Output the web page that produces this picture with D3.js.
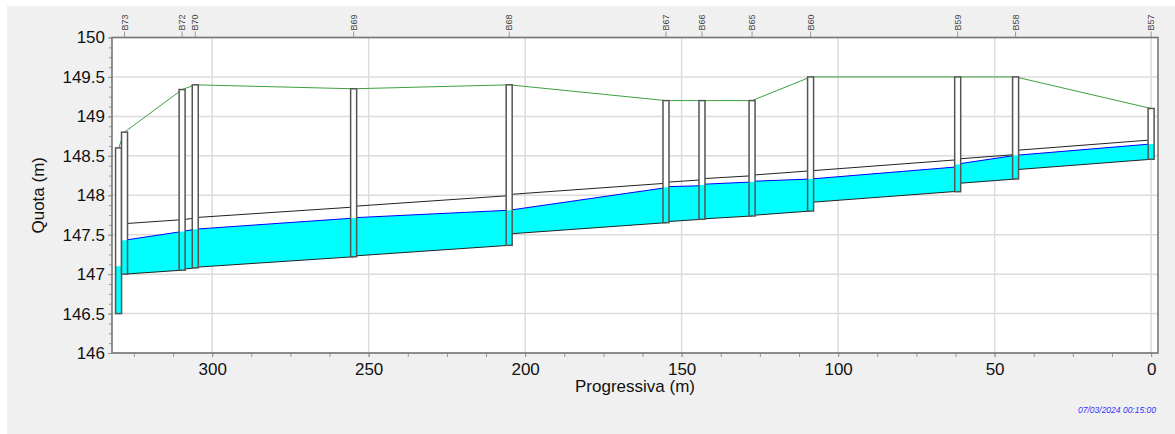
<!DOCTYPE html>
<html>
<head>
<meta charset="utf-8">
<script src="https://d3js.org/d3.v7.min.js"></script>
<style>
  body { margin: 0; background: #fff; }
  svg { display: block; font-family: 'Liberation Sans', Arial, sans-serif; }
</style>
</head>
<body>
<div id="chart"></div>
<script>
// manholes, ordered from downstream (left) to upstream (right)
const nodeNames = ['', 'B73', 'B72', 'B70', 'B69', 'B68', 'B67', 'B66', 'B65', 'B60', 'B59', 'B58', 'B57']
const nodeProg = [329.9, 328.0, 309.6, 305.4, 254.8, 205.1, 155.0, 143.5, 127.5, 108.8, 61.8, 43.3, 0]
const groundLevel = [148.6, 148.8, 149.34, 149.4, 149.35, 149.4, 149.2, 149.2, 149.2, 149.5, 149.5, 149.5, 149.1]
const bottomLevel = [146.5, 147.0, 147.05, 147.08, 147.22, 147.365, 147.652, 147.695, 147.737, 147.8, 148.045, 148.206, 148.456]
const nodeWater = [147.1, 147.43, 147.54, 147.57, 147.71, 147.81, 148.1, 148.13, 148.17, 148.206, 148.39, 148.506, 148.65]

// pipes: pipe k runs from node k+1 (downstream) to node k+2 (upstream)
const pipeDownInvert = [147.0, 147.06, 147.087, 147.23, 147.51, 147.665, 147.7, 147.745, 147.91, 148.15, 148.324]
const pipeUpInvert = [147.05, 147.08, 147.22, 147.365, 147.652, 147.695, 147.737, 147.8, 148.05, 148.206, 148.456]
const pipeDiameter = [0.64, 0.63, 0.63, 0.63, 0.5, 0.5, 0.51, 0.51, 0.4, 0.31, 0.245]
const pipeDownWater = [147.43, 147.54, 147.57, 147.715, 147.81, 148.108, 148.139, 148.177, 148.206, 148.396, 148.506]
const pipeUpWater = [147.54, 147.57, 147.71, 147.81, 148.096, 148.121, 148.168, 148.206, 148.36, 148.506, 148.65]

const xMajorTicks = [300, 250, 200, 150, 100, 50, 0]
const yMajorTicks = [146, 146.5, 147, 147.5, 148, 148.5, 149, 149.5, 150]
const timestamp = '07/03/2024 00:15:00'

const dimensions = {
  width: 1175,
  height: 434,
  margin: {
    top: 37.5,
    right: 17,
    bottom: 81,
    left: 112
  }
}
const innerW = dimensions.width - dimensions.margin.left - dimensions.margin.right
const innerH = dimensions.height - dimensions.margin.top - dimensions.margin.bottom
const MH_HALF = 3

const svg = d3.select('#chart').append('svg')
  .attr('width', dimensions.width)
  .attr('height', dimensions.height)

// grey panel
svg.append('rect')
  .attr('x', 7).attr('y', 6)
  .attr('width', dimensions.width - 7).attr('height', dimensions.height - 6)
  .attr('fill', '#f0f0f0')

const bounds = svg.append('g')
  .attr('transform', `translate(${dimensions.margin.left}, ${dimensions.margin.top})`)

const xScale = d3.scaleLinear()
  .domain([332, -2.2])
  .range([0, innerW])

const yScale = d3.scaleLinear()
  .domain([146, 150])
  .range([innerH, 0])

bounds.append('rect')
  .attr('width', innerW).attr('height', innerH)
  .attr('fill', '#fff')

// grid
bounds.append('g')
  .selectAll('line')
  .data(xMajorTicks)
  .join('line')
  .attr('x1', d => xScale(d)).attr('x2', d => xScale(d))
  .attr('y1', 0).attr('y2', innerH)
  .attr('stroke', '#dcdcdc').attr('stroke-width', 1.5)
bounds.append('g')
  .selectAll('line')
  .data(yMajorTicks)
  .join('line')
  .attr('x1', 0).attr('x2', innerW)
  .attr('y1', d => yScale(d)).attr('y2', d => yScale(d))
  .attr('stroke', '#dcdcdc').attr('stroke-width', 1.5)

// pipes
const pipes = pipeDiameter.map((dn, k) => ({
  down: { p: nodeProg[k + 1], inv: pipeDownInvert[k], wat: pipeDownWater[k] },
  up: { p: nodeProg[k + 2], inv: pipeUpInvert[k], wat: pipeUpWater[k] },
  dn
}))

const water = d3.area()
  .x(d => xScale(d.p))
  .y0(d => yScale(d.inv))
  .y1(d => yScale(d.wat))

const pipeG = bounds.append('g')
pipeG.selectAll('path.water')
  .data(pipes)
  .join('path')
  .attr('class', 'water')
  .attr('d', d => water([d.down, d.up]))
  .attr('fill', '#00ffff')

const seg = (sel, cls, f, color) => sel.selectAll('line.' + cls)
  .data(pipes)
  .join('line')
  .attr('class', cls)
  .attr('x1', d => xScale(d.down.p)).attr('x2', d => xScale(d.up.p))
  .attr('y1', d => yScale(f(d, d.down))).attr('y2', d => yScale(f(d, d.up)))
  .attr('stroke', color).attr('stroke-width', 1)

seg(pipeG, 'surf', (d, e) => e.wat, '#0000ff')
seg(pipeG, 'invert', (d, e) => e.inv, '#222')
seg(pipeG, 'crown', (d, e) => e.inv + d.dn, '#222')

// ground
const nodes = nodeNames.map((name, i) => ({
  name,
  p: nodeProg[i],
  ground: groundLevel[i],
  bottom: bottomLevel[i],
  water: nodeWater[i]
}))

bounds.append('path')
  .datum(nodes)
  .attr('d', d3.line().x(d => xScale(d.p)).y(d => yScale(d.ground)))
  .attr('fill', 'none')
  .attr('stroke', '#3f9f3f')
  .attr('stroke-width', 1)

// manholes
const mh = bounds.append('g')
  .selectAll('g')
  .data(nodes)
  .join('g')
mh.append('rect')
  .attr('x', d => xScale(d.p) - MH_HALF)
  .attr('width', MH_HALF * 2)
  .attr('y', d => yScale(d.ground))
  .attr('height', d => yScale(d.bottom) - yScale(d.ground))
  .attr('fill', '#fff')
mh.append('rect')
  .attr('x', d => xScale(d.p) - MH_HALF)
  .attr('width', MH_HALF * 2)
  .attr('y', d => yScale(d.water))
  .attr('height', d => yScale(d.bottom) - yScale(d.water))
  .attr('fill', '#00ffff')
mh.append('rect')
  .attr('x', d => xScale(d.p) - MH_HALF)
  .attr('width', MH_HALF * 2)
  .attr('y', d => yScale(d.ground))
  .attr('height', d => yScale(d.bottom) - yScale(d.ground))
  .attr('fill', 'none')
  .attr('stroke', '#555')
  .attr('stroke-width', 1.5)

// node labels on top
const labelG = bounds.append('g')
  .selectAll('g')
  .data(nodes.filter(d => d.name))
  .join('g')
  .attr('transform', d => `translate(${xScale(d.p)}, 0)`)
labelG.append('line')
  .attr('y1', -6).attr('y2', 0)
  .attr('stroke', '#999')
labelG.append('text')
  .attr('transform', 'translate(0, -7) rotate(-90)')
  .attr('dy', '0.35em')
  .attr('font-size', 9)
  .attr('fill', '#444')
  .text(d => d.name)

// axes
const xAxisContainer = bounds.append('g')
  .attr('transform', `translate(0, ${innerH})`)
xAxisContainer.append('g')
  .call(d3.axisBottom(xScale).tickValues(d3.range(0, 332, 12.5)).tickSize(4).tickFormat(''))
xAxisContainer.append('g')
  .call(d3.axisBottom(xScale).tickValues(xMajorTicks).tickSize(4).tickPadding(6).tickFormat(d3.format('d')))
xAxisContainer.selectAll('.domain').remove()
xAxisContainer.selectAll('line').attr('stroke', '#999')
xAxisContainer.selectAll('text').attr('font-size', 17).attr('fill', '#111').attr('font-family', null)

const yAxisContainer = bounds.append('g')
yAxisContainer.append('g')
  .call(d3.axisLeft(yScale).tickValues(d3.range(146, 150.01, 0.125)).tickSize(3).tickFormat(''))
yAxisContainer.append('g')
  .call(d3.axisLeft(yScale).tickValues(yMajorTicks).tickSize(4).tickPadding(3).tickFormat(d3.format('~g')))
yAxisContainer.selectAll('.domain').remove()
yAxisContainer.selectAll('line').attr('stroke', '#999')
yAxisContainer.selectAll('text').attr('font-size', 17).attr('fill', '#111').attr('font-family', null)

// frame
bounds.append('rect')
  .attr('width', innerW).attr('height', innerH)
  .attr('fill', 'none')
  .attr('stroke', '#777')
  .attr('stroke-width', 1.6)

// titles
svg.append('text')
  .attr('transform', `translate(44, ${dimensions.margin.top + innerH / 2}) rotate(-90)`)
  .attr('text-anchor', 'middle')
  .attr('font-size', 17)
  .attr('fill', '#111')
  .text('Quota (m)')

svg.append('text')
  .attr('x', dimensions.margin.left + innerW / 2)
  .attr('y', 392)
  .attr('text-anchor', 'middle')
  .attr('font-size', 17)
  .attr('fill', '#111')
  .text('Progressiva (m)')

svg.append('text')
  .attr('x', 1156)
  .attr('y', 413)
  .attr('text-anchor', 'end')
  .attr('font-size', 8.5)
  .attr('font-style', 'italic')
  .attr('fill', '#3333ff')
  .text(timestamp)
</script>
</body>
</html>
